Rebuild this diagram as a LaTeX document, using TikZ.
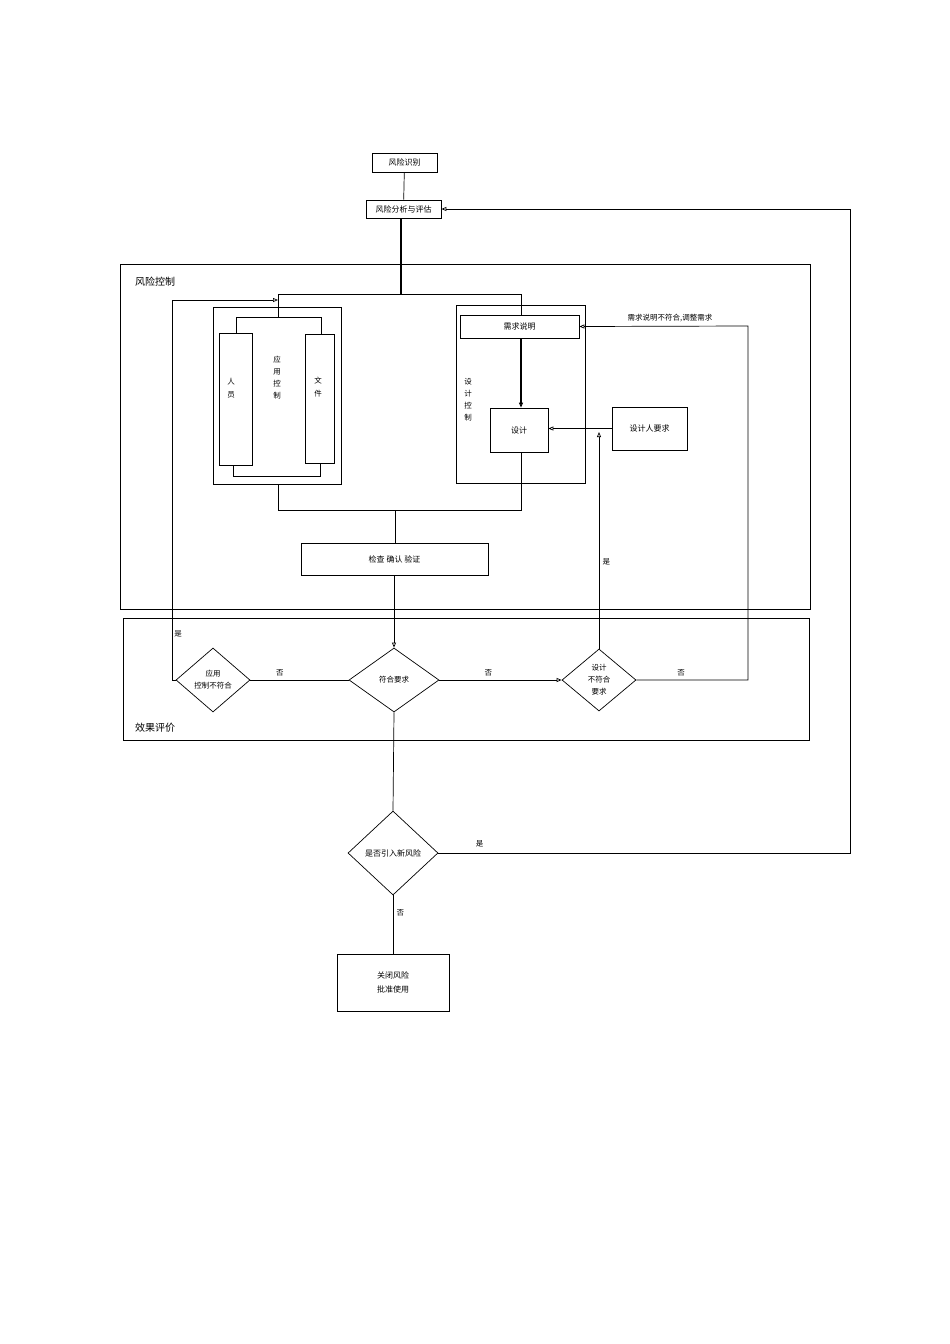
\documentclass[tikz,border=0pt]{standalone}
\usepackage{fontspec}
\setmainfont{Noto Sans CJK SC}
\usetikzlibrary{shapes.geometric,arrows.meta}
\begin{document}
\begin{tikzpicture}[x=1pt,y=-1pt,line width=0.7pt,
  box/.style={draw,rectangle,minimum width=#1,inner sep=0pt,font=\fontsize{8}{10}\selectfont},
  dia/.style={draw,diamond,inner sep=0pt,font=\fontsize{7.5}{12}\selectfont,align=center},
  lbl/.style={font=\fontsize{7.5}{9}\selectfont},
  arr/.style={-{Triangle[open,length=5pt,width=4pt]}},
  frame/.style={draw,line width=0.8pt}]
\useasboundingbox (0,0) rectangle (950,1344);
% frames
\draw[frame] (120,264) rectangle (810,609);
\node[font=\fontsize{10}{12}\selectfont] (rc) at (155,282) {风险控制};
\draw[frame] (123,618) rectangle (809,740);
\node[font=\fontsize{10}{12}\selectfont] (xg) at (155,728) {效果评价};
% top boxes
\node[box=65pt,minimum height=19pt] (sb) at (404.5,162.5) {风险识别};
\node[box=75pt,minimum height=18pt] (fx) at (403.5,209) {风险分析与评估};
\draw (sb) -- (fx);
\coordinate (top) at (401,294);
\draw[line width=1.2pt] (fx.south-|top) -- (top);
\draw (278,294) -- (521,294);
% app control
\draw (213,307) rectangle (341,484);
\node[box=33pt,minimum height=132pt] (ry) at (235.5,399) {};
\node[lbl,align=center] at (231,388) {人\\[4pt]员};
\node[box=29pt,minimum height=129pt] (wj) at (319.5,398.5) {};
\node[lbl,align=center] at (318,387) {文\\[4pt]件};
\draw (236,333) -- (236,317) -- (321,317) -- (321,334);
\draw (233,465) -- (233,476) -- (320,476) -- (320,463);
\node[lbl,align=center] at (277,378) {应\\[3pt]用\\[3pt]控\\[3pt]制};
\draw (278,294) -- (278,317);
% design control
\draw (456,305) rectangle (585,483);
\node[box=119pt,minimum height=23pt] (xq) at (519.5,326.5) {需求说明};
\node[box=58pt,minimum height=44pt] (sj) at (519,430) {设计};
\node[box=75pt,minimum height=43pt] (sr) at (649.5,428.5) {设计人要求};
\node[lbl,align=center] at (468,400) {设\\[3pt]计\\[3pt]控\\[3pt]制};
\draw (521,294) -- (521,315);
\draw[arr,line width=1.1pt] (xq.south-|521,0) -- (sj.north-|521,0);
\draw[arr] (sr.west) -- (sj.east|-sr.west);
% merge
\draw (278,484) -- (278,510) -- (521,510) -- (521,452);
\node[box=187pt,minimum height=32pt] (jc) at (394.5,559) {检查 确认 验证};
\draw (395,510) -- (395,543);
% diamonds
\node[dia,minimum width=90pt,minimum height=64pt] (fh) at (394,680) {符合要求};
\node[dia,minimum width=74pt,minimum height=64pt] (yy) at (213,680) {应用\\控制不符合};
\node[dia,minimum width=74pt,minimum height=62pt] (sd) at (599,680) {设计\\不符合\\要求};
\node[dia,minimum width=90pt,minimum height=84pt,font=\fontsize{8}{10}\selectfont] (xf) at (393,853) {是否引入新风险};
\node[box=112pt,minimum height=57pt,align=center,font=\fontsize{8}{14}\selectfont] (gb) at (393,982.5) {关闭风险\\批准使用};
\draw[arr] (jc.south-|fh.north) -- (fh.north);
\draw (fh.west) -- node[lbl,above,pos=0.7] {否} (yy.east);
\draw[arr] (fh.east) -- node[lbl,above,pos=0.4] {否} (sd.west);
\coordinate (c1) at (748,680);
\coordinate (c2) at (748,326);
\draw[arr] (sd.east) -- node[lbl,above,pos=0.4] {否} (c1) -- (c2) -- (xq.east);
\node[lbl] (n1) at (670,318) {需求说明不符合,调整需求};
\coordinate (c3) at (599,432);
\draw[arr] (sd.north) -- node[lbl,right,pos=0.4] {是} (c3);
\coordinate (c4) at (172,680);
\coordinate (c5) at (172,300);
\coordinate (c6) at (278,300);
\draw[arr] (yy.west) -- (c4) -- (c5) -- (c6);
\node[lbl] at (178,634) {是};
\draw (fh.south) -- (xf.north);
\coordinate (c7) at (850,853);
\coordinate (c8) at (850,209);
\draw[arr] (xf.east) -- node[lbl,above,pos=0.1,yshift=2pt] {是} (c7) -- (c8) -- (fx.east);
\draw (xf.south) -- node[lbl,right,pos=0.3] {否} (gb.north);
\end{tikzpicture}
\end{document}
